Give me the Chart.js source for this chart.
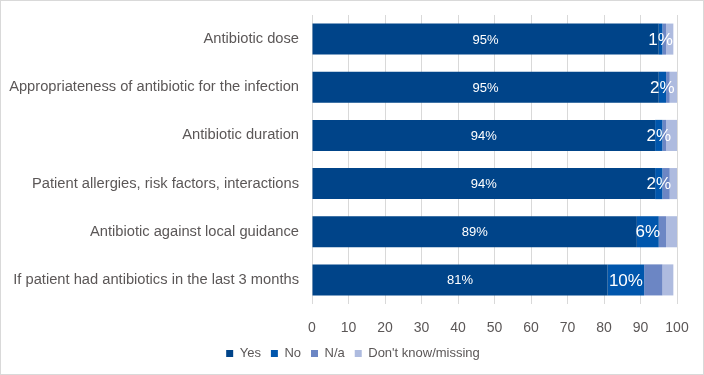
<!DOCTYPE html>
<html>
<head>
<meta charset="utf-8">
<script src="https://cdn.jsdelivr.net/npm/chart.js@4"></script>
<style>
  html, body { margin: 0; padding: 0; background: #fff; }
  #wrap { width: 702px; height: 373px; border: 1px solid #d9d9d9; position: relative; }
</style>
</head>
<body>
<div id="wrap"><canvas id="chartAudit"></canvas></div>
<script>
const categories = [
  'Antibiotic dose',
  'Appropriateness of antibiotic for the infection',
  'Antibiotic duration',
  'Patient allergies, risk factors, interactions',
  'Antibiotic against local guidance',
  'If patient had antibiotics in the last 3 months'
];
const yesValues = [95, 95, 94, 94, 89, 81];
const noValues = [1, 2, 2, 2, 6, 10];
const naValues = [1, 1, 1, 2, 2, 5];
const dontKnowValues = [2, 2, 3, 2, 3, 3];
const xTicks = [0, 10, 20, 30, 40, 50, 60, 70, 80, 90, 100];

const textColor = '#5b5757';
const fontFamily = '"Liberation Sans", Arial, sans-serif';

// labels drawn inside the Yes and No segments
const segmentLabels = {
  id: 'segmentLabels',
  afterLayout(chart) {
    // legend sits a little right of centre in the original
    chart.legend.left += 14;
    chart.legend.right += 14;
  },
  afterDatasetsDraw(chart) {
    const ctx = chart.ctx;
    const sizes = [13, 17];
    [0, 1].forEach(function (i) {
      const meta = chart.getDatasetMeta(i);
      ctx.save();
      ctx.fillStyle = '#ffffff';
      ctx.font = sizes[i] + 'px ' + fontFamily;
      ctx.textAlign = 'center';
      ctx.textBaseline = 'middle';
      meta.data.forEach(function (bar, j) {
        const p = bar.getCenterPoint();
        ctx.fillText(chart.data.datasets[i].data[j] + '%', p.x, p.y + 1);
      });
      ctx.restore();
    });
  }
};

new Chart(document.getElementById('chartAudit'), {
  type: 'bar',
  data: {
    labels: categories,
    datasets: [
      { label: 'Yes', data: yesValues, backgroundColor: '#004489' },
      { label: 'No', data: noValues, backgroundColor: '#0056ac' },
      { label: 'N/a', data: naValues, backgroundColor: '#6c86c4' },
      { label: "Don't know/missing", data: dontKnowValues, backgroundColor: '#aebbdf' }
    ]
  },
  options: {
    indexAxis: 'y',
    responsive: true,
    maintainAspectRatio: false,
    animation: false,
    layout: { padding: { top: 14, right: 26, bottom: 4, left: 0 } },
    datasets: {
      bar: { categoryPercentage: 1, barPercentage: 0.645, borderWidth: 0 }
    },
    scales: {
      x: {
        stacked: true,
        min: 0,
        max: 100,
        afterBuildTicks(scale) {
          scale.ticks = xTicks.map(function (v) { return { value: v }; });
        },
        afterFit(scale) {
          scale.height = 33;
          scale.paddingLeft = 0;
          scale.paddingRight = 0;
        },
        grid: { color: '#d9d9d9', drawTicks: false },
        border: { display: false },
        ticks: {
          color: textColor,
          padding: 16,
          font: { family: fontFamily, size: 14 }
        }
      },
      y: {
        stacked: true,
        grid: { display: false, drawTicks: false },
        border: { display: false },
        afterFit(scale) {
          scale.width = 311;
          scale.paddingTop = 0;
          scale.paddingBottom = 0;
        },
        ticks: {
          color: textColor,
          padding: 13,
          font: { family: fontFamily, size: 14.7 }
        }
      }
    },
    plugins: {
      legend: {
        position: 'bottom',
        labels: {
          boxWidth: 7,
          boxHeight: 7,
          color: textColor,
          padding: 10,
          font: { family: fontFamily, size: 13 }
        }
      },
      tooltip: { enabled: false }
    }
  },
  plugins: [segmentLabels]
});
</script>
</body>
</html>
